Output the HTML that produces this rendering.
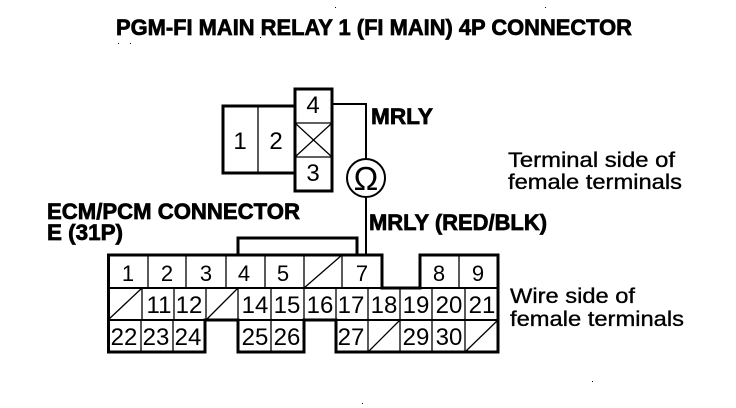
<!DOCTYPE html>
<html><head><meta charset="utf-8"><style>
html,body{margin:0;padding:0;background:#fff}
svg{display:block}
text{font-family:"Liberation Sans",sans-serif;fill:#000}
.b{font-weight:bold;font-size:22px;stroke:#000;stroke-width:.7}
.l{font-size:21px;stroke:#000;stroke-width:.35}
.n{font-size:24px;text-anchor:middle}
.r1{font-size:22px;text-anchor:middle}
.t{stroke:#000;stroke-width:1.3;fill:none}
.k{stroke:#000;stroke-width:3;fill:none}
.d{fill:#000}
</style></head><body>
<svg width="736" height="408" viewBox="0 0 736 408" xmlns="http://www.w3.org/2000/svg">
<text class="b" x="116" y="35" textLength="516" lengthAdjust="spacingAndGlyphs">PGM-FI MAIN RELAY 1 (FI MAIN) 4P CONNECTOR</text>
<text class="b" x="47" y="219" textLength="253" lengthAdjust="spacingAndGlyphs">ECM/PCM CONNECTOR</text>
<text class="b" x="47" y="240" textLength="76" lengthAdjust="spacingAndGlyphs">E (31P)</text>
<text class="b" x="371" y="124" textLength="62" lengthAdjust="spacingAndGlyphs">MRLY</text>
<text class="b" x="369" y="230" textLength="178" lengthAdjust="spacingAndGlyphs">MRLY (RED/BLK)</text>
<text class="l" x="508" y="167" textLength="167" lengthAdjust="spacingAndGlyphs">Terminal side of</text>
<text class="l" x="508" y="189" textLength="174" lengthAdjust="spacingAndGlyphs">female terminals</text>
<text class="l" x="510" y="303" textLength="125" lengthAdjust="spacingAndGlyphs">Wire side of</text>
<text class="l" x="510" y="326" textLength="174" lengthAdjust="spacingAndGlyphs">female terminals</text>

<!-- 4P connector -->
<path class="k" d="M295 106H223V173H295"/>
<path class="t" d="M258 106V173M295 123H332M295 157H332M295 123L332 157M332 123L295 157"/>
<rect class="k" x="295" y="89" width="37" height="102"/>
<text class="n" x="313" y="113">4</text>
<text class="n" x="313" y="181">3</text>
<text class="n" x="240" y="149">1</text>
<text class="n" x="276" y="149">2</text>
<path class="k" style="stroke-width:2" d="M332 104H366V160M366 197V255"/>
<circle class="k" style="stroke-width:2" cx="366" cy="178" r="19"/>
<text x="366" y="190" font-size="33" text-anchor="middle">Ω</text>

<!-- 31P connector outline -->
<path class="k" d="M238 255V238H357V255"/>
<path class="k" d="M108.500 255H382V288H420V255H498V352H336V320H304V352H238V320H205V352H108.500Z"/>
<path class="k" style="stroke-width:2" d="M108 288H382M420 288H498M108 320H205M238 320H304M336 320H498"/>
<!-- row 1 -->
<path class="t" d="M148 255V288M186 255V288M226 255V288M265 255V288M304 255V288M342 255V288M459 255V288M304 288L342 255"/>
<!-- row 2 -->
<path class="t" d="M142 288V320M174 288V320M206 288V320M238 288V320M271 288V320M304 288V320M336 288V320M368 288V320M400 288V320M432 288V320M465 288V320M108 320L142 288M206 320L238 288"/>
<!-- row 3 -->
<path class="t" d="M141 320V352M173 320V352M271 320V352M368 320V352M400 320V352M432 320V352M465 320V352M368 352L400 320M465 352L498 320"/>

<text class="r1" x="128" y="281">1</text><text class="r1" x="167" y="281">2</text><text class="r1" x="206" y="281">3</text><text class="r1" x="244" y="281">4</text><text class="r1" x="283" y="281">5</text><text class="r1" x="362" y="281">7</text><text class="r1" x="439" y="281">8</text><text class="r1" x="478" y="281">9</text>
<text class="n" x="159" y="313">11</text><text class="n" x="189" y="313">12</text><text class="n" x="255" y="313">14</text><text class="n" x="287" y="313">15</text><text class="n" x="320" y="313">16</text><text class="n" x="351" y="313">17</text><text class="n" x="384" y="313">18</text><text class="n" x="416" y="313">19</text><text class="n" x="449" y="313">20</text><text class="n" x="482" y="313">21</text>
<text class="n" x="124" y="345">22</text><text class="n" x="156" y="345">23</text><text class="n" x="188" y="345">24</text><text class="n" x="255" y="345">25</text><text class="n" x="287" y="345">26</text><text class="n" x="351" y="345">27</text><text class="n" x="416" y="345">29</text><text class="n" x="449" y="345">30</text>

<rect class="d" x="118" y="43" width="1" height="1"/><rect class="d" x="130" y="43" width="1" height="1"/><rect class="d" x="260" y="37" width="1" height="1"/><rect class="d" x="335" y="7" width="1" height="1"/><rect class="d" x="545" y="7" width="1" height="1"/><rect class="d" x="592" y="381" width="1" height="1"/><rect class="d" x="362" y="403" width="1" height="1"/>
</svg>
</body></html>
